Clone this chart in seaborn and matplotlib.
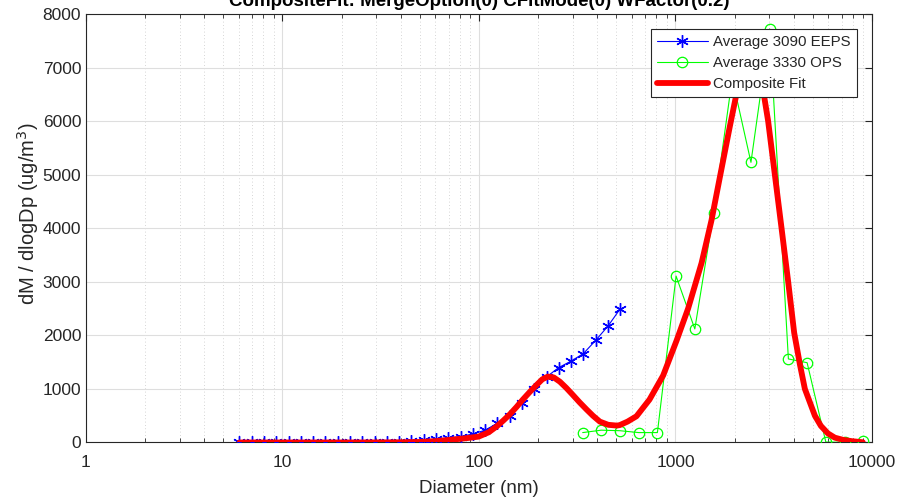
import numpy as np
import pandas as pd
import matplotlib
matplotlib.use("Agg")
import matplotlib.pyplot as plt
from matplotlib.ticker import LogLocator, NullFormatter, FixedLocator, FixedFormatter
import seaborn as sns

# ---- data ----
eeps_dp = [6.04, 6.98, 8.06, 9.31, 10.8, 12.4, 14.3, 16.5, 19.1, 22.1, 25.5, 29.4,
           34.0, 39.2, 45.3, 52.3, 60.4, 69.8, 80.6, 93.1, 107.5, 124.1, 143.3, 165.5,
           191.1, 220.7, 254.8, 294.3, 339.8, 392.4, 453.2, 523.3]
eeps_val = [2, 2, 2, 2, 3, 3, 3, 4, 4, 5, 6, 8,
            10, 15, 30, 45, 65, 85, 110, 160, 230, 360, 495, 735,
            995, 1225, 1400, 1520, 1660, 1907, 2173, 2497]

ops_dp = [337, 419, 522, 650, 809, 1007, 1254, 1562, 1944, 2421, 3015, 3754,
          4675, 5821, 7248, 9026]
ops_val = [185, 230, 220, 185, 185, 3107, 2120, 4280, 6800, 5230, 7720, 1560,
           1490, 8, 5, 20]

fit_dp = [6.04, 10, 20, 30, 40, 50, 60, 73.5, 86, 99.6, 112, 123, 133, 143, 155, 167,
          182, 197, 210, 224, 240, 258, 278, 300, 325, 353, 380, 412, 455, 503, 520.5,
          570, 633, 737, 865, 1012, 1159, 1357, 1525, 1681, 1890, 2028, 2201, 2389,
          2594, 2815, 2961, 3203, 3465, 3745, 4017, 4300, 4554, 5121, 5494, 5965, 6471,
          7111, 7888, 8979]
fit_val = [0, 0, 0, 1, 4, 10, 25, 55, 80, 110, 190, 300, 410, 520, 660, 800,
           950, 1080, 1180, 1230, 1215, 1135, 1020, 890, 750, 615, 500, 390, 330, 316, 325,
           390, 490, 800, 1250, 1900, 2500, 3350, 4150, 4950, 5900, 6450, 6900, 7100,
           6950, 6500, 6000, 5000, 4000, 3000, 2050, 1450, 1000, 500, 310, 170, 90,
           50, 25, 5]

legend_labels = ["Average 3090 EEPS", "Average 3330 OPS", "Composite Fit"]
title_text = "CompositeFit: MergeOption(0) CFitMode(0) WFactor(0.2)"

# ---- styling ----
sns.set_theme(style="white")
plt.rcParams["font.family"] = ["Liberation Sans", "DejaVu Sans"]
plt.rcParams["xtick.direction"] = "in"
plt.rcParams["ytick.direction"] = "in"

W, H = 904, 498
fig = plt.figure(figsize=(W / 100, H / 100), dpi=100)
ax = fig.add_axes([86 / W, 1 - 442.5 / H, (872 - 86) / W, (442.5 - 14) / H])

eeps_df = pd.DataFrame({"dp": eeps_dp, "val": eeps_val})
ops_df = pd.DataFrame({"dp": ops_dp, "val": ops_val})
fit_df = pd.DataFrame({"dp": fit_dp, "val": fit_val})

sns.lineplot(data=eeps_df, x="dp", y="val", ax=ax, color=(0, 0, 1), linewidth=0.8,
             marker=(6, 2, 0), markersize=9, markeredgewidth=1.0,
             markeredgecolor=(0, 0, 1), sort=False, estimator=None,
             label=legend_labels[0], zorder=3)
sns.lineplot(data=ops_df, x="dp", y="val", ax=ax, color=(0, 1, 0), linewidth=0.8,
             marker="o", markersize=7.5, markerfacecolor="none",
             markeredgecolor=(0, 1, 0), markeredgewidth=0.9, sort=False,
             estimator=None, label=legend_labels[1], zorder=3)
sns.lineplot(data=fit_df, x="dp", y="val", ax=ax, color=(1, 0, 0), linewidth=4.2,
             sort=False, estimator=None, label=legend_labels[2], zorder=4)

ax.set_xscale("log")
ax.set_xlim(1, 10000)
ax.set_ylim(0, 8000)
ax.xaxis.set_major_locator(FixedLocator([1, 10, 100, 1000, 10000]))
ax.xaxis.set_major_formatter(FixedFormatter(["1", "10", "100", "1000", "10000"]))
ax.xaxis.set_minor_locator(LogLocator(base=10, subs=np.arange(2, 10), numticks=20))
ax.xaxis.set_minor_formatter(NullFormatter())
ax.set_yticks(np.arange(0, 8001, 1000))

ax.grid(True, which="major", color="#dedede", linewidth=0.8, linestyle="-")
ax.grid(True, which="minor", axis="x", color="#c8c8c8", linewidth=0.6,
        linestyle=(0, (1, 3)))
ax.set_axisbelow(True)

for s in ax.spines.values():
    s.set_color("#262626")
    s.set_linewidth(0.8)
ax.tick_params(axis="both", which="major", direction="in", length=5, width=0.8,
               top=True, right=True, labelsize=12.5, colors="#262626",
               labelcolor="#262626")
ax.tick_params(axis="x", which="major", pad=9)
ax.tick_params(axis="y", which="major", pad=3.5)
ax.tick_params(axis="x", which="minor", direction="in", length=3, width=0.6,
               top=True, bottom=True, colors="#262626")

ax.set_xlabel("Diameter (nm)", fontsize=13.5, color="#262626", labelpad=7)
ax.set_ylabel("dM / dlogDp (ug/m$^3$)", fontsize=14.5, color="#262626")
ax.yaxis.set_label_coords(-0.057, 0.535)

fig.text(479 / W, 1 - 6 / H, title_text, ha="center", va="baseline",
         fontsize=13.5, fontweight="bold", color="black")

leg = ax.legend(loc="upper right", bbox_to_anchor=((857 - 86) / (872 - 86),
                (442.5 - 29) / (442.5 - 14)), borderaxespad=0, fancybox=False,
                framealpha=1, edgecolor="#262626", fontsize=10.8, handlelength=3.4,
                handletextpad=0.35, labelspacing=0.45, borderpad=0.42, numpoints=1)
leg.get_frame().set_linewidth(0.8)

fig.savefig("out.png", dpi=100)
